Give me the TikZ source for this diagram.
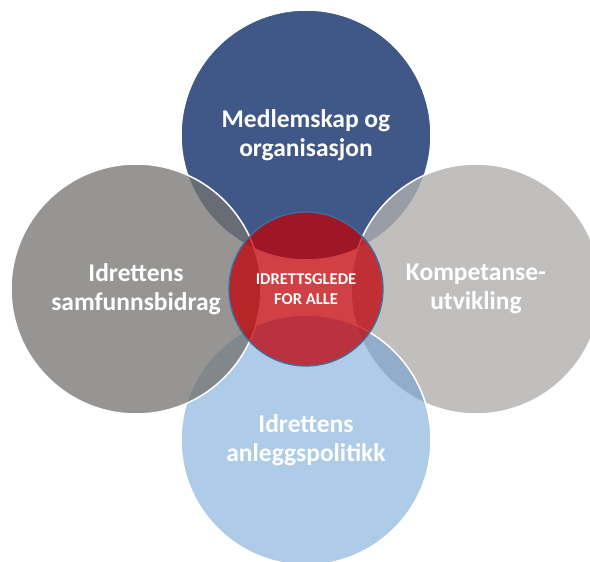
\documentclass[tikz,border=0pt]{standalone}
\usepackage{fontspec}
\setmainfont{Carlito}
\definecolor{medlemblue}{RGB}{63,88,136}
\definecolor{samfunngray}{RGB}{116,115,112}
\definecolor{kompgray}{RGB}{176,175,174}
\definecolor{anleggblue}{RGB}{108,160,213}
\definecolor{gledered}{RGB}{192,0,7}
\definecolor{gledeline}{RGB}{62,110,160}
\begin{document}
\begin{tikzpicture}[x=1pt, y=-1pt,
    area/.style={circle, draw=white, line width=1.5pt, minimum size=250pt, inner sep=0pt,
      text=white, text opacity=1, align=center,
      font=\fontsize{25.5}{29}\selectfont\bfseries},
    core/.style={circle, draw=gledeline, line width=1.3pt, fill=gledered, fill opacity=.75,
      minimum size=154pt, inner sep=0pt, text=white, text opacity=1, align=center,
      font=\fontsize{16.5}{20}\selectfont\bfseries}]
  \useasboundingbox (0,0) rectangle (590,562);
  \clip (0,0) rectangle (590,562);
  \node[area, fill=medlemblue] (medlem) at (306,135) {Medlemskap og\\organisasjon};
  \node[area, fill=kompgray, fill opacity=.8] (kompetanse) at (476,289) {Kompetanse-\\utvikling};
  \node[area, fill=anleggblue, fill opacity=.55] (anlegg) at (306,440) {Idrettens\\anleggspolitikk};
  \node[area, fill=samfunngray, fill opacity=.755] (samfunn) at (136,289) {Idrettens\\samfunnsbidrag};
  \node[core] (glede) at (306,289) {IDRETTSGLEDE\\FOR ALLE};
\end{tikzpicture}
\end{document}
